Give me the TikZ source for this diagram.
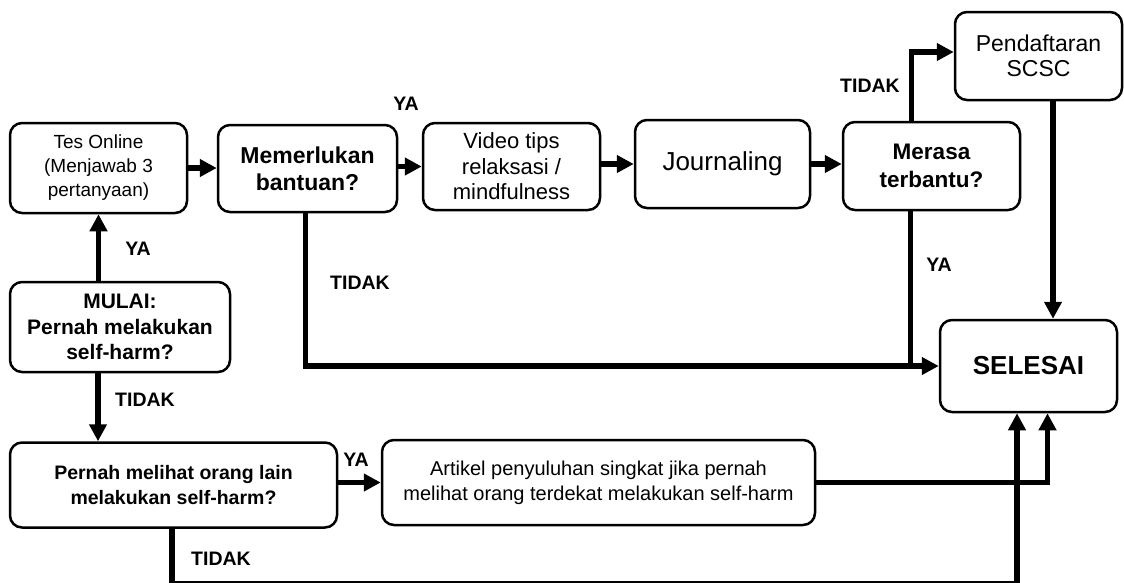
\documentclass[tikz,border=0pt]{standalone}
\usepackage{fontspec}
\setmainfont{Liberation Sans}
\usetikzlibrary{arrows.meta}
\begin{document}
\begin{tikzpicture}[x=1pt,y=-1pt,
  box/.style={draw=black,line width=2.5pt,rounded corners=12pt,fill=white,align=center,inner sep=0pt},
  conn/.style={line width=5.5pt,line join=miter},
  arr/.style={conn,-{Triangle[length=17pt,width=17pt]}},
  lbl/.style={font=\fontsize{19.5}{22}\selectfont\bfseries,inner sep=0pt}
]
\useasboundingbox (0,0) rectangle (1124,582);
% nodes
\node[box,minimum width=177pt,minimum height=90pt,font=\fontsize{19}{24}\selectfont] (tes) at (98.5,168) {Tes Online\\(Menjawab 3\\pertanyaan)};
\node[box,minimum width=179pt,minimum height=87pt,font=\fontsize{23}{27}\selectfont\bfseries] (mem) at (307.5,168.5) {Memerlukan\\bantuan?};
\node[box,minimum width=177pt,minimum height=87pt,font=\fontsize{22}{25.5}\selectfont] (vid) at (511.5,166.5) {Video tips\\relaksasi /\\mindfulness};
\node[box,minimum width=175pt,minimum height=88pt,font=\fontsize{26}{30}\selectfont] (jour) at (722.5,164) {Journaling};
\node[box,minimum width=177pt,minimum height=88pt,font=\fontsize{22.5}{28}\selectfont\bfseries] (mer) at (931.5,166) {Merasa\\terbantu?};
\node[box,minimum width=167pt,minimum height=88pt,font=\fontsize{23}{25.5}\selectfont] (pend) at (1038.5,56) {Pendaftaran\\SCSC};
\node[box,minimum width=177pt,minimum height=92pt,font=\fontsize{26}{30}\selectfont\bfseries] (sel) at (1028.5,366) {SELESAI};
\node[box,minimum width=220pt,minimum height=90pt,font=\fontsize{21}{25.5}\selectfont\bfseries] (mulai) at (120,327) {MULAI:\\Pernah melakukan\\self-harm?};
\node[box,minimum width=327pt,minimum height=85pt,font=\fontsize{19.5}{25}\selectfont\bfseries] (pml) at (173.5,485) {Pernah melihat orang lain\\melakukan self-harm?};
\node[box,minimum width=433pt,minimum height=85pt,font=\fontsize{20}{25}\selectfont] (art) at (598.5,482.5) {Artikel penyuluhan singkat jika pernah\\melihat orang terdekat melakukan self-harm};
\coordinate (bot) at (0,583.5);
% connectors
\draw[arr] (mulai.north -| tes.south) -- (tes.south);
\draw[arr] ([xshift=-22pt]mulai.south) -- ([xshift=-22pt]mulai.south |- pml.north);
\draw[arr] (tes.east) -- (tes.east -| mem.west);
\draw[arr] (mem.east |- vid.west) -- (vid.west);
\draw[arr] (vid.east |- jour.west) -- (jour.west);
\draw[arr] (jour.east) -- (jour.east -| mer.west);
\draw[arr] ([xshift=-20pt]mer.north) |- ([yshift=4pt]pend.west);
\draw[arr] ([xshift=14.5pt]pend.south) -- ([xshift=14.5pt]pend.south |- sel.north);
\draw[arr] ([xshift=-2pt]mem.south) |- (sel.west);
\draw[conn] ([xshift=-21pt]mer.south) -- ([xshift=-21pt]mer.south |- sel.west);
\draw[arr] (pml.east |- art.west) -- (art.west);
\draw[arr] (art.east) -| ([xshift=19pt]sel.south);
\draw[arr] ([xshift=-1.5pt]pml.south) -- ([xshift=-1.5pt]pml.south |- bot) -| ([xshift=-11.5pt]sel.south);
% labels
\node[lbl] (l1) at (138,249) {YA};
\node[lbl] (l2) at (145,400) {TIDAK};
\node[lbl] (l3) at (221,559) {TIDAK};
\node[lbl] (l4) at (356,460) {YA};
\node[lbl] (l5) at (360,283) {TIDAK};
\node[lbl] (l6) at (406,104) {YA};
\node[lbl] (l7) at (870,86) {TIDAK};
\node[lbl] (l8) at (939,265) {YA};
\end{tikzpicture}
\end{document}
